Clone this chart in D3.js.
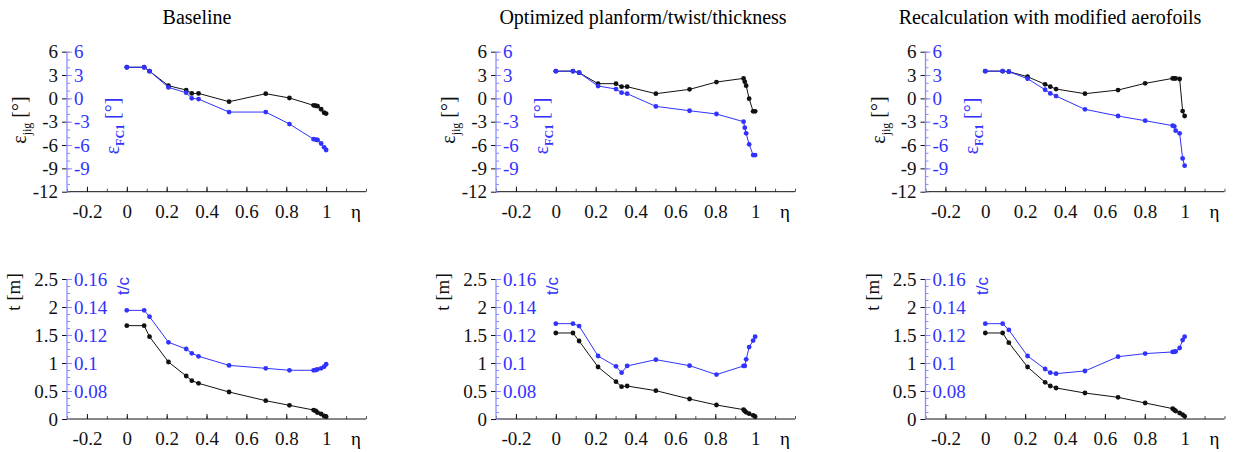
<!DOCTYPE html>
<html>
<head>
<meta charset="utf-8">
<script src="https://cdn.jsdelivr.net/npm/d3@7/dist/d3.min.js"></script>
<style>
  body { margin: 0; background: #fff; }
  svg { display: block; font-family: "Liberation Serif", "Times New Roman", serif; }
  .tick text { font-family: "Liberation Serif", "Times New Roman", serif; }
</style>
</head>
<body>
<svg id="chart" width="1238" height="452"></svg>
<script>
// spanwise stations
var etaBase   = [0, 0.087, 0.114, 0.209, 0.298, 0.326, 0.36, 0.513, 0.697, 0.816, 0.937, 0.948, 0.957, 0.975, 0.99, 1.0];
var etaOpt    = [0, 0.086, 0.117, 0.212, 0.302, 0.33, 0.358, 0.502, 0.671, 0.806, 0.942, 0.948, 0.955, 0.97, 0.99, 1.0];
var etaRecalc = [0, 0.087, 0.118, 0.212, 0.3, 0.326, 0.355, 0.5, 0.666, 0.802, 0.94, 0.948, 0.955, 0.975, 0.99, 1.0];

// twist (deg)
var jigBase   = [4, 4, 3.5, 1.63, 1.07, 0.64, 0.64, -0.43, 0.6, 0.05, -0.9, -0.95, -1.0, -1.4, -1.85, -1.95];
var fc1Base   = [4, 4, 3.5, 1.41, 0.73, 0, -0.09, -1.76, -1.76, -3.3, -5.25, -5.3, -5.35, -5.8, -6.3, -6.64];
var jigOpt    = [3.5, 3.5, 3.3, 1.89, 1.89, 1.5, 1.5, 0.6, 1.16, 2.1, 2.57, 2.14, 1.63, -0.04, -1.67, -1.67];
var fc1Opt    = [3.5, 3.5, 3.3, 1.59, 1.2, 0.73, 0.6, -1.03, -1.59, -2.01, -3.0, -3.77, -4.5, -5.91, -7.29, -7.29];
var jigRecalc = [3.5, 3.5, 3.43, 2.79, 1.8, 1.5, 1.2, 0.6, 1.07, 1.93, 2.57, 2.57, 2.57, 2.49, -1.63, -2.27];
var fc1Recalc = [3.5, 3.5, 3.43, 2.53, 1.11, 0.64, 0.3, -1.41, -2.27, -2.87, -3.51, -3.6, -4.16, -4.5, -7.72, -8.66];

// thickness (m) and thickness ratio
var tBase    = [1.667, 1.667, 1.47, 1.018, 0.768, 0.685, 0.637, 0.482, 0.327, 0.244, 0.16, 0.143, 0.113, 0.089, 0.054, 0.042];
var tcBase   = [0.1376, 0.1376, 0.1331, 0.1148, 0.110, 0.1069, 0.1048, 0.0983, 0.0962, 0.0948, 0.0948, 0.095, 0.0955, 0.0962, 0.0974, 0.0991];
var tOpt     = [1.536, 1.536, 1.393, 0.929, 0.667, 0.577, 0.589, 0.506, 0.357, 0.25, 0.167, 0.143, 0.119, 0.095, 0.065, 0.042];
var tcOpt    = [0.1281, 0.1281, 0.1264, 0.105, 0.0976, 0.0931, 0.0979, 0.1024, 0.0981, 0.0917, 0.0979, 0.0979, 0.1026, 0.1114, 0.116, 0.1188];
var tRecalc  = [1.536, 1.536, 1.363, 0.929, 0.655, 0.589, 0.554, 0.464, 0.387, 0.286, 0.185, 0.161, 0.143, 0.107, 0.077, 0.048];
var tcRecalc = [0.1281, 0.1281, 0.1236, 0.105, 0.0957, 0.0931, 0.0924, 0.0943, 0.1045, 0.1067, 0.1079, 0.108, 0.1083, 0.1107, 0.1164, 0.1188];

var titles = ['Baseline', 'Optimized planform/twist/thickness', 'Recalculation with modified aerofoils'];
var titleX = [197, 643, 1050];

var xTicks = [-0.2, 0, 0.2, 0.4, 0.6, 0.8, 1];
var jigTicks = [6, 3, 0, -3, -6, -9, -12];
var fc1Ticks = [6, 3, 0, -3, -6, -9];
var tTicks = [0, 0.5, 1, 1.5, 2, 2.5];
var tcTicks = [0.08, 0.1, 0.12, 0.14, 0.16];

var BLACK = '#111';
var BLUE = '#3232ff';
var BLUE_AXIS = '#8c8cff';

var svg = d3.select('#chart');
var panelL = [67, 496, 925.5];
var panelW = 299;

function fmt(d) { return String(d); }

function drawPanel(i, row) {
	var left = panelL[i];
	var x = d3.scaleLinear().domain([-0.3, 1.2]).range([left, left + panelW]);
	var eta = [etaBase, etaOpt, etaRecalc][i];
	var y, y2, s1, s2, t1, t2, minorStep, yRange;

	if (row === 0) {
		yRange = [191.7, 51.7];
		y = d3.scaleLinear().domain([-12, 6]).range(yRange);
		y2 = d3.scaleLinear().domain([-12, 6]).range(yRange);
		s1 = [jigBase, jigOpt, jigRecalc][i];
		s2 = [fc1Base, fc1Opt, fc1Recalc][i];
		t1 = jigTicks; t2 = fc1Ticks;
		minorStep = d3.range(-12, 6.01, 1);
	} else {
		yRange = [419, 279];
		y = d3.scaleLinear().domain([0, 2.5]).range(yRange);
		y2 = d3.scaleLinear().domain([0.06, 0.16]).range(yRange);
		s1 = [tBase, tOpt, tRecalc][i];
		s2 = [tcBase, tcOpt, tcRecalc][i];
		t1 = tTicks; t2 = tcTicks;
		minorStep = d3.range(0, 2.501, 0.125);
	}

	var g = svg.append('g');
	var bottom = yRange[0];

	// minor x ticks
	g.append('g')
		.attr('transform', 'translate(0,' + bottom + ')')
		.call(d3.axisBottom(x).tickValues(d3.range(-0.3, 1.21, 0.1)).tickSize(-3).tickFormat(''))
		.call(function(a) { a.select('.domain').remove(); a.selectAll('line').attr('stroke', '#555'); });

	// x axis
	g.append('g')
		.attr('transform', 'translate(0,' + bottom + ')')
		.call(d3.axisBottom(x).tickValues(xTicks).tickSizeInner(-5).tickSizeOuter(0).tickPadding(10).tickFormat(fmt))
		.call(function(a) {
			a.select('.domain').attr('stroke', BLACK).attr('d', 'M' + x(-0.3) + ',0H' + x(1.2));
			a.selectAll('line').attr('stroke', BLACK);
			a.selectAll('text').attr('fill', BLACK).style('font-size', '19px').attr('y', 13);
		});

	g.append('text')
		.attr('x', x(1.15)).attr('y', bottom + 26)
		.attr('text-anchor', 'middle')
		.style('font-size', '19px')
		.text('η');

	// minor y ticks (blue, right side)
	g.append('g')
		.attr('transform', 'translate(' + left + ',0)')
		.call(d3.axisRight(y).tickValues(minorStep).tickSize(3).tickFormat(''))
		.call(function(a) { a.select('.domain').remove(); a.selectAll('line').attr('stroke', BLUE_AXIS); });

	// left (black) axis
	g.append('g')
		.attr('transform', 'translate(' + left + ',0)')
		.call(d3.axisLeft(y).tickValues(t1).tickSize(5).tickPadding(4).tickFormat(fmt))
		.call(function(a) {
			a.select('.domain').remove();
			a.selectAll('line').attr('stroke', BLACK);
			a.selectAll('text').attr('fill', BLACK).style('font-size', '19px');
		});

	// right-side (blue) axis sharing the line
	g.append('g')
		.attr('transform', 'translate(' + left + ',0)')
		.call(d3.axisRight(y2).tickValues(t2).tickSizeInner(5).tickSizeOuter(0).tickPadding(2).tickFormat(fmt))
		.call(function(a) {
			a.select('.domain').attr('stroke', BLUE_AXIS).attr('stroke-width', 1.3)
				.attr('d', 'M0,' + yRange[0] + 'V' + yRange[1]);
			a.selectAll('line').attr('stroke', BLUE_AXIS);
			a.selectAll('text').attr('fill', BLUE).style('font-size', '19px');
		});

	// axis titles
	if (row === 0) {
		var l1 = g.append('text')
			.attr('transform', 'translate(' + (left - 41) + ',120) rotate(-90)')
			.attr('text-anchor', 'middle').attr('fill', BLACK).style('font-size', '20px');
		l1.append('tspan').text('ε');
		l1.append('tspan').attr('dy', 5).style('font-size', '12px').text('jig');
		l1.append('tspan').attr('dy', -5).text(' [°]');

		var l2 = g.append('text')
			.attr('transform', 'translate(' + (left + 52) + ',126) rotate(-90)')
			.attr('text-anchor', 'middle').attr('fill', BLUE).style('font-size', '20px');
		l2.append('tspan').text('ε');
		l2.append('tspan').attr('dy', 5).style('font-size', '12px').style('font-weight', 'bold').text('FC1');
		l2.append('tspan').attr('dy', -5).text(' [°]');
	} else {
		g.append('text')
			.attr('transform', 'translate(' + (left - 47) + ',292) rotate(-90)')
			.attr('text-anchor', 'middle').attr('fill', BLACK).style('font-size', '19px')
			.text('t [m]');
		g.append('text')
			.attr('transform', 'translate(' + (left + 62) + ',286) rotate(-90)')
			.attr('text-anchor', 'middle').attr('fill', BLUE)
			.style('font-family', '"Liberation Sans", Arial, sans-serif').style('font-size', '17px')
			.text('t/c');
	}

	var pts1 = eta.map(function(e, k) { return [e, s1[k]]; });
	var pts2 = eta.map(function(e, k) { return [e, s2[k]]; });

	var line1 = d3.line().x(function(d) { return x(d[0]); }).y(function(d) { return y(d[1]); });
	var line2 = d3.line().x(function(d) { return x(d[0]); }).y(function(d) { return y2(d[1]); });

	var series = row === 0
		? [{p: pts1, l: line1, s: y, c: BLACK}, {p: pts2, l: line2, s: y2, c: BLUE}]
		: [{p: pts2, l: line2, s: y2, c: BLUE}, {p: pts1, l: line1, s: y, c: BLACK}];

	series.forEach(function(se) {
		g.append('path').attr('d', se.l(se.p)).attr('fill', 'none').attr('stroke', se.c).attr('stroke-width', 1);
		g.selectAll(null).data(se.p).enter().append('circle')
			.attr('cx', function(d) { return x(d[0]); })
			.attr('cy', function(d) { return se.s(d[1]); })
			.attr('r', 2.4)
			.attr('fill', se.c);
	});
}

for (var r = 0; r < 2; r++) {
	for (var i = 0; i < 3; i++) {
		drawPanel(i, r);
	}
}

svg.selectAll('text.title').data(titles).enter().append('text')
	.attr('class', 'title')
	.attr('x', function(d, k) { return titleX[k]; })
	.attr('y', 24)
	.attr('text-anchor', 'middle')
	.style('font-size', '20px')
	.text(function(d) { return d; });
</script>
</body>
</html>
